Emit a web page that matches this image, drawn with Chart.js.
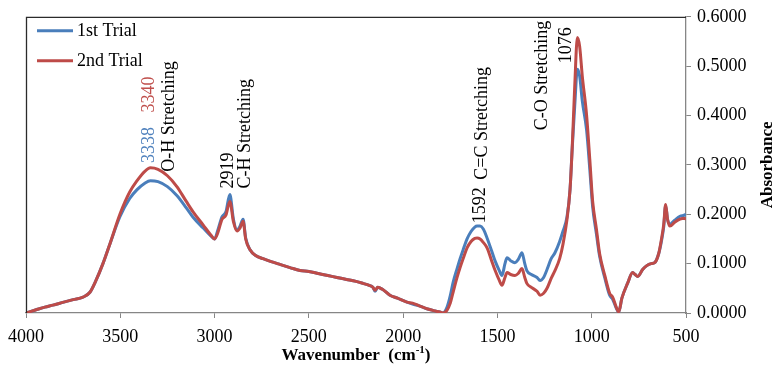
<!DOCTYPE html>
<html>
<head>
<meta charset="utf-8">
<script src="https://cdn.jsdelivr.net/npm/chart.js@4/dist/chart.umd.min.js"></script>
<style>
html,body{margin:0;padding:0;background:#fff;}
canvas{display:block;}
</style>
</head>
<body>
<canvas id="c" width="774" height="370"></canvas>
<script>
// ---- data ----
const wavenumbers = [4000,3950,3900,3857,3800,3750,3698,3661,3630,3592,3555,3502,3450,3411,3370,3340,3300,3250,3200,3150,3114,3060,3020,3000,2985,2960,2940,2919,2900,2881,2865,2849,2835,2812,2780,2743,2700,2650,2600,2547,2500,2450,2400,2351,2300,2250,2213,2180,2160,2149,2135,2110,2070,2030,1980,1950,1911,1870,1830,1805,1790,1767,1750,1735,1714,1698,1680,1661,1640,1620,1608,1592,1575,1555,1530,1512,1490,1476,1460,1449,1430,1407,1390,1370,1355,1344,1320,1290,1274,1255,1237,1215,1195,1170,1152,1131,1115,1104,1090,1076,1064,1050,1027,1010,995,975,958,930,905,889,870,857,840,810,783,770,756,730,708,685,666,645,629,618,608,598,585,560,532,510,500];
const trial1 = [0,0.006,0.012,0.016,0.022,0.027,0.032,0.042,0.065,0.100,0.140,0.195,0.232,0.250,0.263,0.268,0.266,0.256,0.238,0.213,0.194,0.172,0.156,0.150,0.165,0.195,0.205,0.240,0.190,0.168,0.176,0.190,0.152,0.128,0.116,0.110,0.104,0.098,0.092,0.086,0.084,0.080,0.076,0.072,0.068,0.064,0.060,0.056,0.052,0.044,0.052,0.048,0.036,0.030,0.022,0.018,0.014,0.008,0.004,0.002,0.000,0.012,0.035,0.062,0.090,0.110,0.130,0.150,0.165,0.174,0.176,0.176,0.170,0.152,0.125,0.105,0.086,0.076,0.100,0.112,0.106,0.102,0.108,0.122,0.100,0.086,0.078,0.072,0.066,0.072,0.088,0.110,0.122,0.145,0.166,0.195,0.250,0.330,0.420,0.494,0.480,0.430,0.370,0.290,0.215,0.160,0.115,0.070,0.036,0.028,0.010,0.002,0.030,0.060,0.082,0.078,0.074,0.088,0.096,0.100,0.102,0.120,0.148,0.175,0.218,0.190,0.180,0.188,0.196,0.198,0.200];
const trial2 = [0,0.006,0.012,0.016,0.022,0.027,0.032,0.042,0.065,0.100,0.140,0.200,0.245,0.268,0.287,0.294,0.291,0.278,0.256,0.226,0.205,0.178,0.158,0.150,0.160,0.190,0.198,0.226,0.185,0.166,0.172,0.186,0.150,0.128,0.116,0.110,0.104,0.098,0.092,0.086,0.084,0.080,0.076,0.072,0.068,0.064,0.060,0.056,0.052,0.046,0.052,0.048,0.036,0.030,0.022,0.020,0.014,0.008,0.004,0.002,0.000,0.006,0.020,0.042,0.072,0.092,0.112,0.132,0.145,0.151,0.152,0.150,0.143,0.132,0.105,0.086,0.066,0.056,0.072,0.082,0.078,0.076,0.080,0.090,0.072,0.060,0.052,0.044,0.036,0.040,0.050,0.070,0.086,0.110,0.140,0.190,0.250,0.330,0.460,0.558,0.540,0.480,0.400,0.310,0.226,0.170,0.120,0.075,0.040,0.032,0.012,0.002,0.030,0.060,0.082,0.078,0.074,0.088,0.096,0.100,0.102,0.120,0.152,0.180,0.220,0.190,0.176,0.184,0.190,0.192,0.190];
const seriesNames = ['1st Trial', '2nd Trial'];
const xTickValues = [4000,3500,3000,2500,2000,1500,1000,500];
const yTickValues = [0,0.1,0.2,0.3,0.4,0.5,0.6];
const xTitle = 'Wavenumber  (cm';
const xTitleSup = '-1';
const yTitle = 'Absorbance';
// peak annotations: text, wavenumber, value at which the text starts, colour key
const annoText = ['3338', '3340', 'O-H Stretching', '2919', 'C-H Stretching', '1592', 'C=C Stretching', 'C-O Stretching', '1076'];
const annoWave = [3345, 3345, 3240, 2925, 2835, 1590, 1580, 1262, 1137];
const annoValue = [0.304, 0.406, 0.286, 0.252, 0.252, 0.182, 0.270, 0.370, 0.506];
const annoColor = ['blue', 'red', 'black', 'black', 'black', 'black', 'black', 'black', 'black'];

const BLUE = '#4A7EBB', RED = '#BE4B48';
const TEXTCOL = {blue: '#4F81BD', red: '#C0504D', black: '#000'};
const SERIF = '"Liberation Serif", "Times New Roman", serif';

const pts = arr => wavenumbers.map((w, i) => ({x: w, y: arr[i]}));

const decor = {
  id: 'decor',
  afterDraw(chart) {
    const {ctx, chartArea: a, scales: {x, y}} = chart;
    ctx.save();
    // top and left frame
    ctx.strokeStyle = '#2b2b2b';
    ctx.lineWidth = 1.3;
    ctx.beginPath();
    ctx.moveTo(a.left + 0.5, a.bottom);
    ctx.lineTo(a.left + 0.5, a.top + 0.5);
    ctx.lineTo(a.right, a.top + 0.5);
    ctx.stroke();
    // legend
    const cols = [BLUE, RED];
    ctx.font = '18px ' + SERIF;
    ctx.textBaseline = 'middle';
    ctx.textAlign = 'left';
    seriesNames.forEach((n, i) => {
      const ly = a.top + 14 + i * 30;
      ctx.strokeStyle = cols[i];
      ctx.lineWidth = 3;
      ctx.beginPath();
      ctx.moveTo(a.left + 11, ly);
      ctx.lineTo(a.left + 47, ly);
      ctx.stroke();
      ctx.fillStyle = '#000';
      ctx.fillText(n, a.left + 51, ly);
    });
    // annotations (rotated, reading upward)
    ctx.font = '18px ' + SERIF;
    annoText.forEach((t, i) => {
      const px = x.getPixelForValue(annoWave[i]);
      const py = y.getPixelForValue(annoValue[i]);
      ctx.save();
      ctx.translate(px, py);
      ctx.rotate(-Math.PI / 2);
      ctx.fillStyle = TEXTCOL[annoColor[i]];
      ctx.textAlign = 'left';
      ctx.textBaseline = 'middle';
      ctx.fillText(t, 0, 0);
      ctx.restore();
    });
    // x title with superscript
    ctx.fillStyle = '#000';
    ctx.font = 'bold 17px ' + SERIF;
    const supFont = 'bold 11px ' + SERIF;
    const w1 = ctx.measureText(xTitle).width;
    ctx.font = supFont;
    const w2 = ctx.measureText(xTitleSup).width;
    ctx.font = 'bold 17px ' + SERIF;
    const w3 = ctx.measureText(')').width;
    const total = w1 + w2 + w3;
    let tx = (a.left + a.right) / 2 - total / 2;
    const ty = 360;
    ctx.textAlign = 'left';
    ctx.textBaseline = 'alphabetic';
    ctx.fillText(xTitle, tx, ty);
    ctx.font = supFont;
    ctx.fillText(xTitleSup, tx + w1, ty - 7);
    ctx.font = 'bold 17px ' + SERIF;
    ctx.fillText(')', tx + w1 + w2, ty);
    // y title
    ctx.save();
    ctx.translate(768, (a.top + a.bottom) / 2);
    ctx.rotate(-Math.PI / 2);
    ctx.textAlign = 'center';
    ctx.textBaseline = 'middle';
    ctx.fillText(yTitle, 0, 0);
    ctx.restore();
    ctx.restore();
  }
};

new Chart(document.getElementById('c'), {
  type: 'line',
  data: {
    datasets: [
      {label: seriesNames[0], data: pts(trial1), borderColor: BLUE, borderWidth: 3, pointRadius: 0, cubicInterpolationMode: 'monotone', order: 1},
      {label: seriesNames[1], data: pts(trial2), borderColor: RED, borderWidth: 3, pointRadius: 0, cubicInterpolationMode: 'monotone', order: 0}
    ]
  },
  options: {
    responsive: false,
    animation: false,
    devicePixelRatio: 1,
    layout: {padding: {left: 26, top: 13, right: 0, bottom: 0}},
    plugins: {legend: {display: false}, tooltip: {enabled: false}},
    scales: {
      x: {
        type: 'linear', reverse: true, min: 500, max: 4000,
        afterBuildTicks: s => { s.ticks = xTickValues.map(v => ({value: v})); },
        afterFit: s => { s.height = 57; },
        ticks: {font: {family: SERIF, size: 18}, color: '#000', maxRotation: 0, padding: 8, callback: v => String(v)},
        grid: {drawOnChartArea: false, drawTicks: true, tickLength: 5, color: '#868686'},
        border: {display: true, color: '#868686', width: 1.3}
      },
      y: {
        position: 'right', min: 0, max: 0.6,
        afterBuildTicks: s => { s.ticks = yTickValues.map(v => ({value: v})); },
        afterFit: s => { s.width = 88; },
        ticks: {font: {family: SERIF, size: 18}, color: '#000', padding: 6, callback: v => v.toFixed(4)},
        grid: {drawOnChartArea: false, drawTicks: true, tickLength: 5, color: '#868686'},
        border: {display: true, color: '#868686', width: 1.3}
      }
    }
  },
  plugins: [decor]
});
</script>
</body>
</html>
